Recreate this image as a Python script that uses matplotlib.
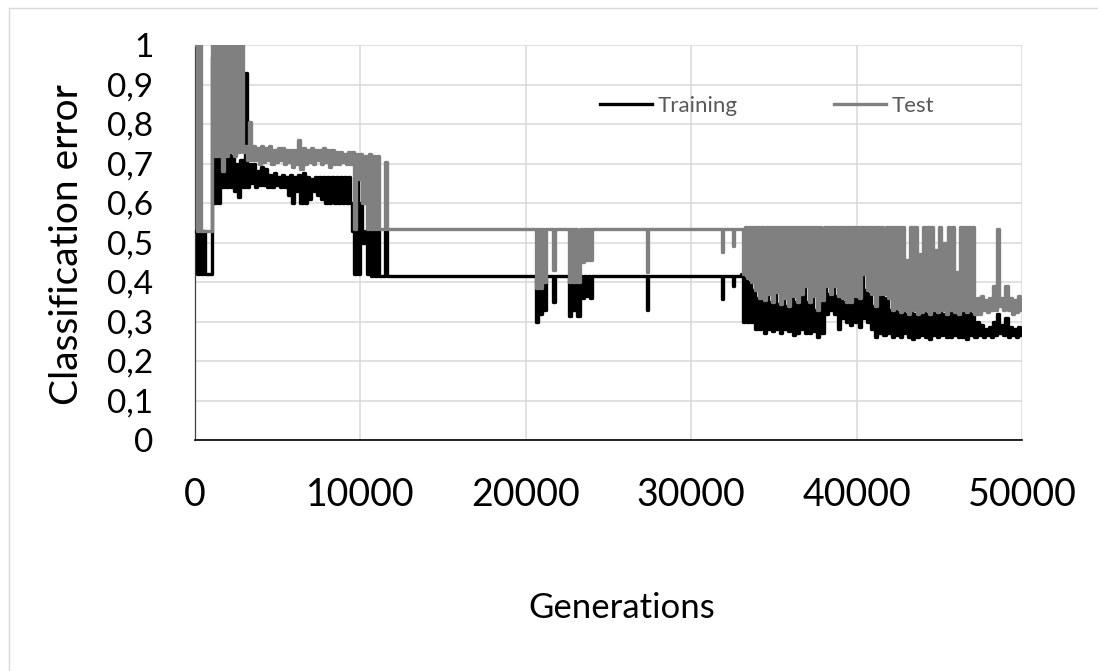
import numpy as np
import matplotlib.pyplot as plt
from matplotlib.lines import Line2D

plt.rcParams['font.family'] = ['Lato', 'DejaVu Sans']
# keep every swing of the dense series
plt.rcParams['path.simplify'] = False

# classification error of the best individual, read every 250 generations
# inside the busy stretches: hi/lo are the top and bottom of each swing
step = 250

gens_a = np.arange(0, 12000, step)          # 0 .. 11750
test_hi_a = [1.0, 1.0, 0.53, 0.53, 1.0, 1.0, 1.0, 1.0, 1.0, 1.0, 1.0, 1.0,
             0.745, 0.805, 0.745, 0.74, 0.745, 0.74, 0.745, 0.735, 0.74, 0.74,
             0.735, 0.735, 0.735, 0.76, 0.74, 0.735, 0.74, 0.735, 0.735, 0.74,
             0.735, 0.735, 0.73, 0.73, 0.725, 0.73, 0.73, 0.725, 0.725, 0.72,
             0.725, 0.72, 0.72, 0.535, 0.705, 0.535]
test_lo_a = [0.53, 0.53, 0.53, 0.53, 0.72, 0.72, 0.68, 0.72, 0.73, 0.72, 0.73, 0.73,
             0.71, 0.71, 0.71, 0.70, 0.705, 0.71, 0.70, 0.705, 0.71, 0.70,
             0.705, 0.69, 0.70, 0.685, 0.70, 0.705, 0.70, 0.71, 0.70, 0.705,
             0.69, 0.70, 0.70, 0.705, 0.70, 0.70, 0.535, 0.66, 0.60, 0.535,
             0.535, 0.535, 0.535, 0.535, 0.535, 0.535]
train_hi_a = [0.53, 0.53, 0.53, 0.42, 0.97, 0.79, 0.78, 0.73, 0.73, 0.72, 0.70, 0.71,
              0.93, 0.70, 0.70, 0.68, 0.69, 0.685, 0.67, 0.675, 0.665, 0.67,
              0.665, 0.67, 0.665, 0.67, 0.675, 0.665, 0.66, 0.665, 0.665, 0.665,
              0.665, 0.665, 0.665, 0.665, 0.665, 0.665, 0.53, 0.66, 0.60, 0.53,
              0.53, 0.53, 0.53, 0.415, 0.53, 0.415]
train_lo_a = [0.42, 0.42, 0.42, 0.42, 0.60, 0.60, 0.64, 0.64, 0.64, 0.63, 0.615, 0.64,
              0.64, 0.65, 0.64, 0.645, 0.645, 0.64, 0.64, 0.645, 0.64, 0.64,
              0.62, 0.60, 0.63, 0.60, 0.60, 0.61, 0.63, 0.62, 0.61, 0.60,
              0.60, 0.60, 0.60, 0.60, 0.60, 0.60, 0.42, 0.42, 0.50, 0.42,
              0.415, 0.415, 0.415, 0.415, 0.415, 0.415]

gens_b = np.arange(20250, 24250, step)      # 20250 .. 24000
test_hi_b = [0.535] * 16
test_lo_b = [0.535, 0.385, 0.385, 0.40, 0.535, 0.43, 0.535, 0.535,
             0.535, 0.40, 0.40, 0.40, 0.45, 0.455, 0.455, 0.535]
train_hi_b = [0.415] * 16
train_lo_b = [0.415, 0.30, 0.32, 0.33, 0.415, 0.35, 0.415, 0.415,
              0.415, 0.315, 0.33, 0.315, 0.36, 0.365, 0.36, 0.415]

# single short drops on the plateau
dip_gen = [27300, 31850, 32550]
dip_test = [0.425, 0.476, 0.49]
dip_train = [0.33, 0.357, 0.39]

gens_c = np.arange(33000, 50250, step)      # 33000 .. 50000
test_hi_c = [0.535, 0.54, 0.54, 0.54, 0.54, 0.54, 0.54, 0.54, 0.54, 0.54,
             0.54, 0.54, 0.54, 0.54, 0.54, 0.54, 0.54, 0.54, 0.54, 0.54,
             0.54, 0.54, 0.54, 0.54, 0.54, 0.54, 0.54, 0.54, 0.54, 0.54,
             0.54, 0.54, 0.54, 0.54, 0.54, 0.54, 0.54, 0.54, 0.54, 0.54,
             0.455, 0.54, 0.54, 0.47, 0.54, 0.54, 0.54, 0.48, 0.54, 0.50,
             0.54, 0.54, 0.425, 0.54, 0.54, 0.54, 0.54, 0.36, 0.365, 0.355,
             0.36, 0.39, 0.535, 0.36, 0.39, 0.36, 0.355, 0.365, 0.36]
test_lo_c = [0.42, 0.41, 0.40, 0.38, 0.36, 0.355, 0.37, 0.35, 0.375, 0.345,
             0.36, 0.34, 0.365, 0.35, 0.37, 0.39, 0.35, 0.365, 0.33, 0.355,
             0.39, 0.37, 0.39, 0.365, 0.36, 0.35, 0.35, 0.365, 0.36, 0.42,
             0.38, 0.37, 0.34, 0.37, 0.37, 0.36, 0.33, 0.335, 0.325, 0.33,
             0.32, 0.33, 0.32, 0.325, 0.33, 0.32, 0.33, 0.325, 0.33, 0.32,
             0.33, 0.325, 0.32, 0.33, 0.325, 0.33, 0.32, 0.32, 0.33, 0.325,
             0.33, 0.33, 0.34, 0.33, 0.33, 0.32, 0.325, 0.33, 0.33]
train_hi_c = [0.42, 0.41, 0.40, 0.38, 0.36, 0.355, 0.37, 0.35, 0.375, 0.345,
              0.36, 0.34, 0.365, 0.35, 0.37, 0.39, 0.35, 0.365, 0.33, 0.355,
              0.39, 0.37, 0.39, 0.365, 0.36, 0.35, 0.35, 0.365, 0.36, 0.42,
              0.38, 0.37, 0.34, 0.37, 0.37, 0.36, 0.33, 0.335, 0.325, 0.33,
              0.32, 0.33, 0.32, 0.325, 0.33, 0.32, 0.33, 0.325, 0.33, 0.32,
              0.33, 0.325, 0.32, 0.33, 0.325, 0.33, 0.32, 0.30, 0.29, 0.28,
              0.285, 0.30, 0.32, 0.29, 0.31, 0.285, 0.28, 0.285, 0.28]
train_lo_c = [0.30, 0.30, 0.30, 0.28, 0.28, 0.27, 0.28, 0.275, 0.28, 0.27,
              0.28, 0.275, 0.265, 0.27, 0.28, 0.27, 0.27, 0.275, 0.26, 0.27,
              0.32, 0.33, 0.32, 0.28, 0.31, 0.30, 0.29, 0.30, 0.285, 0.31,
              0.30, 0.28, 0.26, 0.27, 0.265, 0.27, 0.26, 0.265, 0.26, 0.27,
              0.26, 0.255, 0.26, 0.265, 0.26, 0.255, 0.265, 0.26, 0.265, 0.26,
              0.26, 0.265, 0.26, 0.26, 0.255, 0.265, 0.26, 0.265, 0.26, 0.265,
              0.26, 0.265, 0.27, 0.265, 0.26, 0.265, 0.26, 0.265, 0.27]

plateau_train = 0.415
plateau_test = 0.535

y_ticks = np.arange(0, 1.01, 0.1)
y_labels = ['0', '0,1', '0,2', '0,3', '0,4', '0,5', '0,6', '0,7', '0,8', '0,9', '1']
x_ticks = [0, 10000, 20000, 30000, 40000, 50000]


def swing(gens, hi, lo):
    xs, ys = [], []
    for g, h, l in zip(gens, hi, lo):
        xs += [g, g + step / 2]
        ys += [h, l]
    return xs, ys


def series(hi_a, lo_a, hi_b, lo_b, dips, plateau, hi_c, lo_c):
    xs, ys = swing(gens_a, hi_a, lo_a)
    x, y = swing(gens_b, hi_b, lo_b)
    xs += x
    ys += y
    for g, d in zip(dip_gen, dips):
        xs += [g - 60, g, g + 60]
        ys += [plateau, d, plateau]
    x, y = swing(gens_c, hi_c, lo_c)
    xs += x
    ys += y
    return xs, ys


train_x, train_y = series(train_hi_a, train_lo_a, train_hi_b, train_lo_b,
                          dip_train, plateau_train, train_hi_c, train_lo_c)
test_x, test_y = series(test_hi_a, test_lo_a, test_hi_b, test_lo_b,
                        dip_test, plateau_test, test_hi_c, test_lo_c)

fig = plt.figure(figsize=(10.98, 6.71), dpi=100)
ax = fig.add_axes([195 / 1098, 1 - 440 / 671, 827 / 1098, 395 / 671])

ax.plot(train_x, train_y, color='black', lw=2.4, drawstyle='steps-post', zorder=3)
ax.plot(test_x, test_y, color='#808080', lw=2.4, drawstyle='steps-post', zorder=4)

ax.set_xlim(0, 50000)
ax.set_ylim(0, 1)
ax.set_xticks(x_ticks)
ax.set_xticklabels([str(t) for t in x_ticks])
ax.set_yticks(y_ticks)
ax.set_yticklabels(y_labels)
ax.tick_params(length=0, colors='black')
ax.tick_params(axis='x', pad=27, labelsize=27)
ax.tick_params(axis='y', pad=30, labelsize=24)
ax.grid(True, color='#d9d9d9', lw=1.1, zorder=0)
ax.set_axisbelow(True)
for side in ['top', 'right']:
    ax.spines[side].set_visible(False)
ax.spines['left'].set_color('#404040')
ax.spines['left'].set_linewidth(0.9)
ax.spines['bottom'].set_color('black')
ax.spines['bottom'].set_linewidth(1.2)

ax.set_ylabel('Classification error', fontsize=28, va='center', ha='center')
ax.yaxis.set_label_coords((67 - 195) / 827, (440 - 245) / 395)
ax.set_xlabel('Generations', fontsize=25, va='center', ha='center')
ax.xaxis.set_label_coords((622 - 195) / 827, -(608 - 440) / 395)

handles = [Line2D([], [], color='black', lw=2.4),
           Line2D([], [], color='#808080', lw=2.4)]
leg = ax.legend(handles, ['Training', 'Test'], ncol=2, frameon=False,
                loc='center left', bbox_to_anchor=(600 / 1098, 1 - 106 / 671),
                bbox_transform=fig.transFigure, fontsize=16,
                handlelength=2.34, handletextpad=0.27, columnspacing=4.32,
                borderpad=0, borderaxespad=0)
for t in leg.get_texts():
    t.set_color('#595959')

# chart area outline
fig.add_artist(Line2D([9 / 1098, 9 / 1098], [0, 1 - 8 / 671],
                      transform=fig.transFigure, color='#d9d9d9', lw=1))
fig.add_artist(Line2D([9 / 1098, 1], [1 - 8 / 671, 1 - 8 / 671],
                      transform=fig.transFigure, color='#d9d9d9', lw=1))

fig.savefig('out.png', dpi=100)
